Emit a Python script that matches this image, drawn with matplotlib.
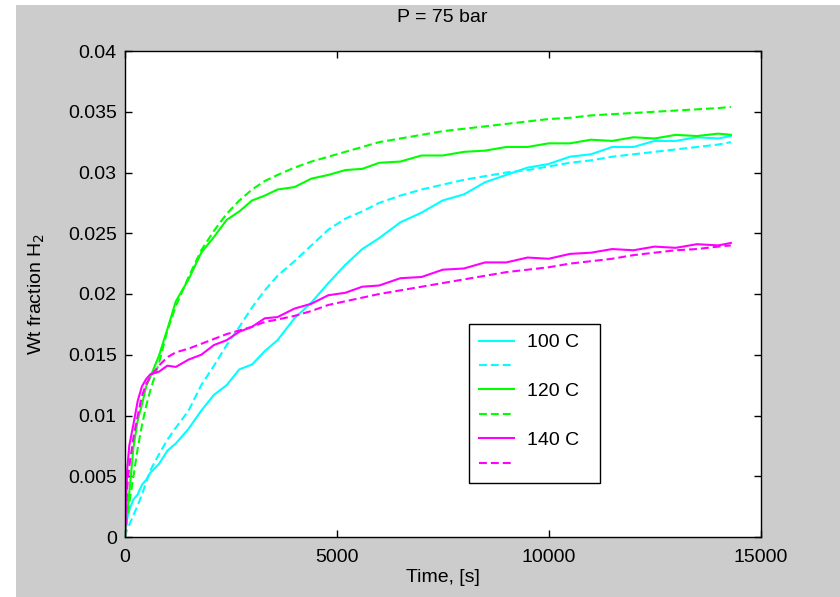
import matplotlib
matplotlib.use("Agg")
import matplotlib.pyplot as plt
from matplotlib.patches import Rectangle

# time axis [s], shared by all series
t = [0, 50, 100, 200, 300, 400, 500, 600, 800, 1000, 1200, 1500, 1800, 2100,
     2400, 2700, 3000, 3300, 3600, 4000, 4400, 4800, 5200, 5600, 6000, 6500,
     7000, 7500, 8000, 8500, 9000, 9500, 10000, 10500, 11000, 11500, 12000,
     12500, 13000, 13500, 14000, 14300]

# measured (solid) and model (dashed) wt fraction H2
exp_100 = [0, 0.0015, 0.0022, 0.0031, 0.0035, 0.0043, 0.0047, 0.0053, 0.0060,
           0.0071, 0.0077, 0.0089, 0.0104, 0.0117, 0.0125, 0.0138, 0.0142,
           0.0153, 0.0162, 0.0180, 0.0193, 0.0209, 0.0224, 0.0237, 0.0246,
           0.0259, 0.0267, 0.0277, 0.0282, 0.0292, 0.0298, 0.0304, 0.0307,
           0.0313, 0.0315, 0.0321, 0.0321, 0.0326, 0.0326, 0.0329, 0.0328,
           0.0330]
mod_100 = [0, 0.0006, 0.0010, 0.0018, 0.0026, 0.0035, 0.0045, 0.0055, 0.0068,
           0.0080, 0.0090, 0.0104, 0.0125, 0.0141, 0.0158, 0.0173, 0.0189,
           0.0203, 0.0215, 0.0227, 0.0240, 0.0253, 0.0262, 0.0268, 0.0275,
           0.0281, 0.0286, 0.0290, 0.0294, 0.0297, 0.0300, 0.0302, 0.0305,
           0.0308, 0.0310, 0.0313, 0.0315, 0.0317, 0.0319, 0.0321, 0.0323,
           0.0325]
exp_120 = [0, 0.0020, 0.0036, 0.0074, 0.0096, 0.0109, 0.0124, 0.0132, 0.0149,
           0.0171, 0.0194, 0.0212, 0.0234, 0.0247, 0.0261, 0.0268, 0.0277,
           0.0281, 0.0286, 0.0288, 0.0295, 0.0298, 0.0302, 0.0303, 0.0308,
           0.0309, 0.0314, 0.0314, 0.0317, 0.0318, 0.0321, 0.0321, 0.0324,
           0.0324, 0.0327, 0.0326, 0.0329, 0.0328, 0.0331, 0.0330, 0.0332,
           0.0331]
mod_120 = [0, 0.0015, 0.0028, 0.0050, 0.0073, 0.0092, 0.0108, 0.0121, 0.0143,
           0.0170, 0.0190, 0.0214, 0.0236, 0.0252, 0.0266, 0.0277, 0.0286,
           0.0293, 0.0298, 0.0304, 0.0309, 0.0313, 0.0317, 0.0321, 0.0325,
           0.0328, 0.0331, 0.0334, 0.0336, 0.0338, 0.0340, 0.0342, 0.0344,
           0.0345, 0.0347, 0.0348, 0.0349, 0.0350, 0.0351, 0.0352, 0.0353,
           0.0354]
exp_140 = [0, 0.0055, 0.0075, 0.0093, 0.0112, 0.0124, 0.0130, 0.0134, 0.0136,
           0.0141, 0.0140, 0.0146, 0.0150, 0.0158, 0.0162, 0.0169, 0.0173,
           0.0180, 0.0181, 0.0188, 0.0192, 0.0199, 0.0201, 0.0206, 0.0207,
           0.0213, 0.0214, 0.0220, 0.0221, 0.0226, 0.0226, 0.0230, 0.0229,
           0.0233, 0.0234, 0.0237, 0.0236, 0.0239, 0.0238, 0.0241, 0.0240,
           0.0242]
mod_140 = [0, 0.0040, 0.0058, 0.0082, 0.0100, 0.0116, 0.0126, 0.0132, 0.0141,
           0.0148, 0.0152, 0.0155, 0.0159, 0.0163, 0.0167, 0.0170, 0.0173,
           0.0177, 0.0179, 0.0182, 0.0186, 0.0191, 0.0194, 0.0197, 0.0200,
           0.0203, 0.0206, 0.0209, 0.0212, 0.0215, 0.0218, 0.0220, 0.0222,
           0.0225, 0.0227, 0.0229, 0.0232, 0.0234, 0.0236, 0.0237, 0.0239,
           0.0240]

labels = ["100 C  ", "", "120 C  ", "", "140 C  ", ""]
colors = ["#00ffff", "#00ff00", "#ff00ff"]

plt.rcParams["font.family"] = ["Liberation Sans", "DejaVu Sans"]
plt.rcParams["font.size"] = 14

fig = plt.figure(figsize=(8.4, 5.97), dpi=100, facecolor="#cccccc")
# white margin strips at left and top of the screenshot
fig.patches.append(Rectangle((0, 0), 16 / 840, 1, transform=fig.transFigure,
                             facecolor="white", edgecolor="none"))
fig.patches.append(Rectangle((0, 1 - 5 / 597), 1, 5 / 597, transform=fig.transFigure,
                             facecolor="white", edgecolor="none"))

ax = fig.add_axes([125 / 840, 60 / 597, 635.5 / 840, 486 / 597])
ax.set_facecolor("white")

dash = (3.8, 1.9)
handles = []
for c, ye, ym in zip(colors, [exp_100, exp_120, exp_140], [mod_100, mod_120, mod_140]):
    h1, = ax.plot(t, ye, color=c, lw=1.5)
    h2, = ax.plot(t, ym, color=c, lw=1.5, ls="--", dashes=dash)
    handles += [h1, h2]

ax.set_xlim(0, 15000)
ax.set_ylim(0, 0.04)
ax.set_xticks([0, 5000, 10000, 15000])
ax.set_yticks([0, 0.005, 0.01, 0.015, 0.02, 0.025, 0.03, 0.035, 0.04])
ax.set_yticklabels(["0", "0.005", "0.01", "0.015", "0.02", "0.025", "0.03", "0.035", "0.04"])
ax.tick_params(direction="in", length=5, width=1, top=True, right=True,
               labelsize=14, colors="black")
ax.tick_params(axis="y", pad=6)
ax.tick_params(axis="x", pad=9)
for s in ax.spines.values():
    s.set_linewidth(1)
    s.set_color("black")

leg = ax.legend(handles, labels, loc="upper left",
                bbox_to_anchor=(469 / 840, 1 - 324 / 597), bbox_transform=fig.transFigure,
                fancybox=False, framealpha=1, edgecolor="black", fontsize=14,
                handlelength=1.8, handletextpad=0.7, labelspacing=0.35,
                borderpad=0.5, borderaxespad=0)
leg.get_frame().set_linewidth(1)

fig.text(0.527, 1 - 17 / 597, "P = 75 bar", ha="center", va="center", fontsize=14)
fig.text(0.527, 1 - 578 / 597, "Time, [s]", ha="center", va="center", fontsize=14)
fig.text(37 / 840, 1 - 294 / 597, "Wt fraction H$_2$", ha="center", va="center",
         rotation=90, fontsize=14)

fig.savefig("out.png", dpi=100, facecolor=fig.get_facecolor())
